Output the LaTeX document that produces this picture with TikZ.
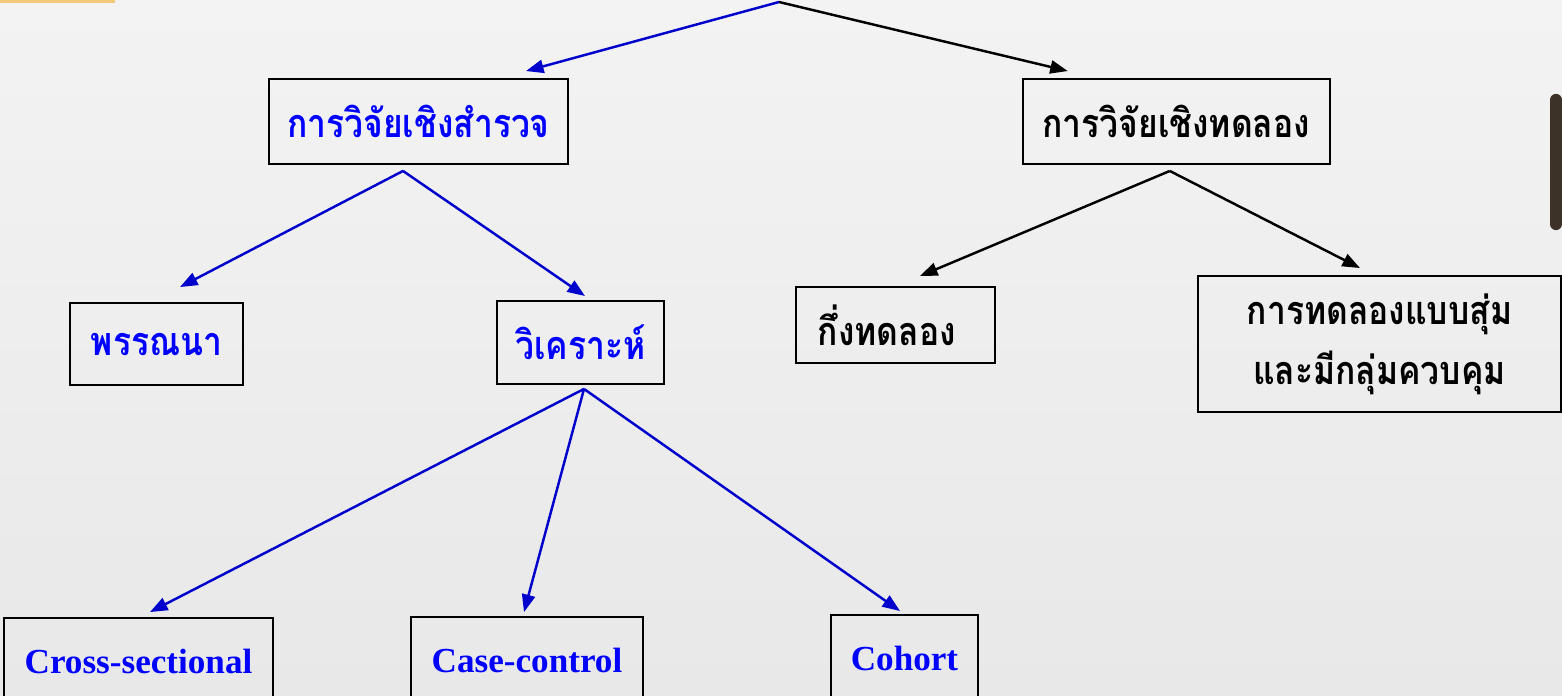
\documentclass[tikz,border=0pt]{standalone}
\usepackage{fontspec}
\setmainfont{Liberation Serif}
\newfontfamily\thaifont[Script=Thai, FakeStretch=0.85]{Loma}
\usepackage{tikz}
\usetikzlibrary{arrows.meta, positioning}

\definecolor{navyline}{RGB}{0,0,205}
\definecolor{slidetop}{RGB}{243,243,243}
\definecolor{slidebot}{RGB}{232,232,232}
\definecolor{orangebar}{RGB}{240,200,120}
\definecolor{darkbar}{RGB}{60,50,40}

\begin{document}
\begin{tikzpicture}[x=0.02cm, y=-0.02cm,
    stage/.style={rectangle, draw, line width=1.1pt, inner sep=0pt, align=center},
    thai/.style={font=\thaifont\bfseries\fontsize{22.5}{34}\selectfont},
    latin/.style={font=\bfseries\fontsize{20}{24}\selectfont},
    bluelink/.style={draw=navyline, line width=1.4pt, -{Triangle[length=10pt, width=7.5pt]}},
    blacklink/.style={draw=black, line width=1.4pt, -{Triangle[length=10pt, width=7.5pt]}}]

    % slide background
    \useasboundingbox (0,0) rectangle (1562,696);
    \shade[top color=slidetop, bottom color=slidebot] (0,0) rectangle (1562,696);
    \clip (0,0) rectangle (1562,696);
    \fill[orangebar] (0,0) rectangle (115,3);
    \draw[darkbar, line width=7pt, line cap=round] (1556,100) -- (1556,224);

    % level 1
    \coordinate (root) at (779,2);
    \node[stage, thai, text=blue, minimum width=5.98cm, minimum height=1.7cm] (survey) at (418.5,121.5) {การวิจัยเชิงสำรวจ};
    \node[stage, thai, minimum width=6.14cm, minimum height=1.7cm, right=9.06cm of survey] (exper) {การวิจัยเชิงทดลอง};

    % level 2
    \node[stage, thai, text=blue, minimum width=3.46cm, minimum height=1.64cm] (descr) at (156.5,344) {พรรณนา};
    \node[stage, thai, text=blue, minimum width=3.34cm, minimum height=1.66cm] (anal) at (580.5,342.5) {วิเคราะห์};
    \node[stage, thai, minimum width=3.98cm, minimum height=1.52cm] (quasi) at (895.5,325) {กึ่งทดลอง\hspace{0.35cm}};
    \node[stage, thai, minimum width=7.26cm, minimum height=2.72cm] (rct) at (1379.5,344) {การทดลองแบบสุ่ม\\และมีกลุ่มควบคุม};

    % level 3
    \node[stage, latin, text=blue, minimum width=5.38cm, minimum height=1.72cm] (cross) at (138.5,661) {Cross-sectional};
    \node[stage, latin, text=blue, minimum width=4.64cm, minimum height=1.72cm] (casectl) at (527,660) {Case-control};
    \node[stage, latin, text=blue, minimum width=2.94cm, minimum height=1.72cm] (cohort) at (904.5,658) {Cohort};

    \draw[bluelink] (root) -- ([shift={(107.5,-7)}]survey.north);
    \draw[blacklink] (root) -- ([shift={(-108.5,-7)}]exper.north);

    \draw[bluelink] ([shift={(-15.5,6)}]survey.south) -- ([shift={(23.5,-15)}]descr.north);
    \draw[bluelink] ([shift={(-15.5,6)}]survey.south) -- ([shift={(4.5,-4)}]anal.north);

    \draw[blacklink] ([shift={(-6.5,6)}]exper.south) -- ([shift={(24.5,-10)}]quasi.north);
    \draw[blacklink] ([shift={(-6.5,6)}]exper.south) -- ([shift={(-19.5,-7)}]rct.north);

    \draw[bluelink] ([shift={(3.5,4)}]anal.south) -- ([shift={(11.5,-5)}]cross.north);
    \draw[bluelink] ([shift={(3.5,4)}]anal.south) -- ([shift={(-3,-4)}]casectl.north);
    \draw[bluelink] ([shift={(3.5,4)}]anal.south) -- ([shift={(-4.5,-3)}]cohort.north);
\end{tikzpicture}
\end{document}
